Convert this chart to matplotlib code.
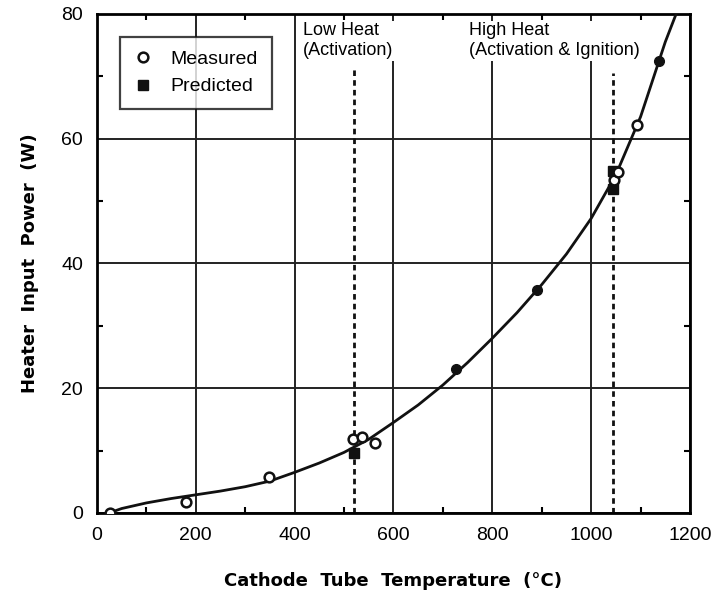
import matplotlib
matplotlib.use('Agg')
import matplotlib.pyplot as plt
from matplotlib.ticker import MultipleLocator

plt.rcParams['font.family'] = ['Liberation Sans', 'DejaVu Sans']

# fitted curve
curve_x = [25, 50, 100, 150, 200, 250, 300, 350, 400, 450, 500, 550, 600, 650,
           700, 750, 800, 850, 900, 950, 1000, 1050, 1100, 1150, 1172]
curve_y = [0.0, 0.7, 1.6, 2.3, 2.9, 3.5, 4.2, 5.1, 6.5, 8.0, 9.7, 11.8, 14.5, 17.3,
           20.5, 24.1, 28.0, 32.1, 36.6, 41.5, 47.2, 54.2, 63.5, 75.5, 80.0]

meas_x = [26, 180, 348, 518, 536, 563, 1046, 1055, 1093]
meas_y = [0.0, 1.7, 5.7, 11.9, 12.2, 11.2, 53.4, 54.6, 62.2]

pred_x = [520, 1045, 1045]
pred_y = [9.6, 54.8, 52.0]

dot_x = [727, 891, 1138]
dot_y = [23.0, 35.8, 72.4]

low_heat_x = 520
high_heat_x = 1045

fig = plt.figure(figsize=(7.18, 6.02), dpi=100)
ax = fig.add_axes([0.135, 0.148, 0.826, 0.829])

ax.set_xlim(0, 1200)
ax.set_ylim(0, 80)
ax.xaxis.set_major_locator(MultipleLocator(200))
ax.yaxis.set_major_locator(MultipleLocator(20))
ax.xaxis.set_minor_locator(MultipleLocator(100))
ax.yaxis.set_minor_locator(MultipleLocator(10))
ax.grid(True, which='major', color='#222222', linewidth=1.4, zorder=1)
ax.set_axisbelow(True)
ax.tick_params(which='major', length=0, labelsize=14, pad=10)
ax.tick_params(which='minor', direction='in', length=4, width=1.5,
               top=True, right=True)
for s in ax.spines.values():
    s.set_linewidth(2)

ax.plot(curve_x, curve_y, color='#111111', linewidth=2, zorder=3)

ax.vlines([low_heat_x], 0, 71.3, colors='#111111', linestyles=(0, (2, 1.5)),
          linewidth=2, zorder=2)
ax.vlines([high_heat_x], 0, 70.5, colors='#111111', linestyles=(0, (2, 1.5)),
          linewidth=2, zorder=2)

ax.plot(dot_x, dot_y, 'o', color='#111111', markersize=7, zorder=4)
ax.plot(meas_x, meas_y, 'o', markerfacecolor='white', markeredgecolor='#111111',
        markeredgewidth=1.8, markersize=7, zorder=5, label='Measured')
ax.plot(pred_x, pred_y, 's', color='#111111', markersize=7, zorder=4,
        label='Predicted')

box = dict(facecolor='white', edgecolor='none', pad=1)
ax.text(416, 78.7, 'Low Heat\n(Activation)', fontsize=13, va='top', ha='left',
        bbox=box, zorder=6, linespacing=1.25)
ax.text(752, 78.7, 'High Heat\n(Activation & Ignition)', fontsize=13, va='top',
        ha='left', bbox=box, zorder=6, linespacing=1.25)

leg = ax.legend(loc='upper left', bbox_to_anchor=(0.039, 0.954), borderaxespad=0,
                fontsize=14, frameon=True, fancybox=False, handletextpad=0.9,
                handlelength=1.0, borderpad=0.7, labelspacing=0.5)
leg.get_frame().set_edgecolor('#111111')
leg.get_frame().set_linewidth(1.6)
leg.set_zorder(7)

ax.set_xlabel('Cathode  Tube  Temperature  (°C)', fontsize=13,
              family='DejaVu Sans', fontweight='bold', labelpad=20)
ax.set_ylabel('Heater  Input  Power  (W)', fontsize=13, family='DejaVu Sans',
              fontweight='bold', labelpad=16)

fig.savefig('out.png', dpi=100, facecolor='white')
